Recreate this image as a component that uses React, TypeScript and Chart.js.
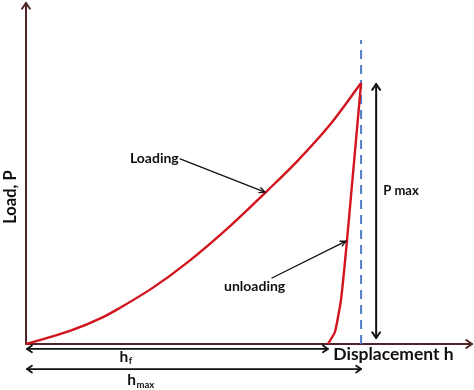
import React, { useEffect, useRef } from "react";
import { Chart, registerables } from "chart.js";

Chart.register(...registerables);

// Loading curve (displacement h in nm, load P in mN)
const loadingH = [0, 131, 230, 281, 379, 481, 609, 719, 809, 907, 1000];
const loadingP = [0, 5.0, 10.3, 13.9, 21.6, 31.2, 45.2, 58.6, 70.0, 84.0, 100];
// Unloading curve
const unloadingH = [1000, 958, 940, 922, 901];
const unloadingP = [100, 39.8, 16.9, 4.6, 0];
// Key values
const hMax = 1000;
const hF = 901;
const pMax = 100;
const dashTopP = 116.5;
const xMaxScale = 1331;
const yMaxScale = 130.65;

const labels = {
  loading: "Loading",
  unloading: "unloading",
  pmax: "P max",
  xTitle: "Displacement h",
  yTitle: "Load, P",
};

const FONT = "Lato, 'Open Sans', sans-serif";

function head(ctx: CanvasRenderingContext2D, x: number, y: number, ang: number, len: number, spread: number) {
  ctx.beginPath();
  ctx.moveTo(x - len * Math.cos(ang - spread), y - len * Math.sin(ang - spread));
  ctx.lineTo(x, y);
  ctx.lineTo(x - len * Math.cos(ang + spread), y - len * Math.sin(ang + spread));
  ctx.stroke();
}

function arrow(ctx: CanvasRenderingContext2D, x1: number, y1: number, x2: number, y2: number, both: boolean, len: number, spread: number) {
  ctx.beginPath();
  ctx.moveTo(x1, y1);
  ctx.lineTo(x2, y2);
  ctx.stroke();
  const a = Math.atan2(y2 - y1, x2 - x1);
  head(ctx, x2, y2, a, len, spread);
  if (both) head(ctx, x1, y1, a + Math.PI, len, spread);
}

const annotPlugin = {
  id: "annot",
  beforeDatasetsDraw(chart: any) {
    const ctx = chart.ctx as CanvasRenderingContext2D;
    const xs = chart.scales.x;
    const ys = chart.scales.y;
    const x0 = xs.getPixelForValue(0);
    const y0 = ys.getPixelForValue(0);
    ctx.save();
    ctx.strokeStyle = "#4f2428";
    ctx.lineWidth = 2;
    ctx.lineCap = "round";
    ctx.lineJoin = "round";
    arrow(ctx, x0, y0, x0, chart.chartArea.top, false, 7, 0.6);
    arrow(ctx, x0, y0, chart.chartArea.right, y0, false, 7, 0.6);
    ctx.restore();
  },
  afterDatasetsDraw(chart: any) {
    const ctx = chart.ctx as CanvasRenderingContext2D;
    const xs = chart.scales.x;
    const ys = chart.scales.y;
    const px = (v: number) => xs.getPixelForValue(v);
    const py = (v: number) => ys.getPixelForValue(v);
    ctx.save();
    ctx.strokeStyle = "#111";
    ctx.fillStyle = "#111";
    ctx.lineCap = "round";
    ctx.lineJoin = "round";

    // P max arrow
    ctx.lineWidth = 2;
    arrow(ctx, px(1045), py(2.3), px(1045), py(pMax - 0.4), true, 7, 0.6);
    // h_f arrow
    ctx.lineWidth = 1.8;
    arrow(ctx, px(3), py(-1.9), px(hF), py(-1.9), true, 6, 0.6);
    // h_max arrow
    arrow(ctx, px(3), py(-9.6), px(hMax), py(-9.6), true, 6, 0.6);

    // pointer arrows
    ctx.lineWidth = 1.3;
    arrow(ctx, px(460), py(70.9), px(713), py(58.2), false, 6, 0.45);
    arrow(ctx, px(734), py(25.3), px(955), py(39.4), false, 6, 0.45);

    // texts
    ctx.textBaseline = "middle";
    ctx.textAlign = "left";
    ctx.font = `bold 14px ${FONT}`;
    ctx.fillText(labels.loading, px(310), py(70.9));
    ctx.fillText(labels.unloading, px(591), py(22.2));
    ctx.font = `bold 13px ${FONT}`;
    ctx.fillText(labels.pmax, px(1066), py(58.6));
    ctx.font = `bold 17.5px ${FONT}`;
    ctx.fillText(labels.xTitle, px(917), py(-4.0));

    // h_f
    ctx.font = `bold 15.5px ${FONT}`;
    ctx.textBaseline = "alphabetic";
    const hfx = px(279);
    const hfy = py(-5.0) + 5;
    ctx.fillText("h", hfx, hfy);
    const hw = ctx.measureText("h").width;
    ctx.font = `bold 9.5px ${FONT}`;
    ctx.fillText("f", hfx + hw + 0.5, hfy + 2);
    // h_max
    ctx.font = `bold 15.5px ${FONT}`;
    const hmx = px(302);
    const hmy = py(-13.8) + 5;
    ctx.fillText("h", hmx, hmy);
    ctx.font = `bold 9.5px ${FONT}`;
    ctx.fillText("max", hmx + hw + 0.5, hmy + 3);

    // y title
    ctx.save();
    ctx.translate(px(-44.8), py(56.3));
    ctx.rotate(-Math.PI / 2);
    ctx.textAlign = "center";
    ctx.textBaseline = "middle";
    ctx.font = `bold 16.5px ${FONT}`;
    ctx.fillText(labels.yTitle, 0, 0);
    ctx.restore();

    ctx.restore();
  },
};

export default function App() {
  const ref = useRef<HTMLCanvasElement | null>(null);
  useEffect(() => {
    if (!ref.current) return;
    const chart = new Chart(ref.current, {
      type: "scatter",
      data: {
        datasets: [
          {
            data: loadingH.map((h, i) => ({ x: h, y: loadingP[i] })),
            showLine: true,
            borderColor: "#d2141e",
            borderWidth: 2.4,
            pointRadius: 0,
            cubicInterpolationMode: "monotone",
            clip: false,
          } as any,
          {
            data: unloadingH.map((h, i) => ({ x: h, y: unloadingP[i] })),
            showLine: true,
            borderColor: "#d2141e",
            borderWidth: 2.4,
            pointRadius: 0,
            tension: 0.15,
            clip: false,
          } as any,
          {
            data: [
              { x: hMax, y: 0 },
              { x: hMax, y: dashTopP },
            ],
            showLine: true,
            borderColor: "#4f7ec4",
            borderWidth: 2,
            borderDash: [9, 6],
            pointRadius: 0,
            clip: false,
          } as any,
        ],
      },
      options: {
        animation: false,
        responsive: true,
        maintainAspectRatio: false,
        layout: { padding: { left: 26, right: 2, top: 3, bottom: 46 } },
        plugins: { legend: { display: false }, tooltip: { enabled: false } },
        scales: {
          x: { type: "linear", min: 0, max: xMaxScale, display: false },
          y: { type: "linear", min: 0, max: yMaxScale, display: false },
        },
      },
      plugins: [annotPlugin],
    });
    return () => chart.destroy();
  }, []);
  return (
    <div style={{ position: "fixed", left: 0, top: 0, width: 474, height: 390, background: "#fff" }}>
      <canvas ref={ref} />
    </div>
  );
}
